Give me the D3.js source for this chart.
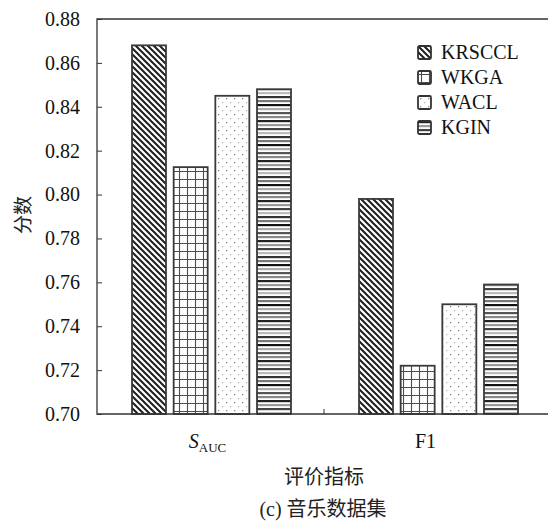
<!DOCTYPE html>
<html>
<head>
<meta charset="utf-8">
<script src="https://cdn.jsdelivr.net/npm/d3@7"></script>
<style>
  body { margin: 0; background: #fff; }
  svg { display: block; }
</style>
</head>
<body>
<svg id="chart" width="548" height="522"></svg>
<script>
// data
const categories = ['SAUC', 'F1'];
const series = ['KRSCCL', 'WKGA', 'WACL', 'KGIN'];
const valuesKRSCCL = [0.868, 0.798];
const valuesWKGA = [0.8125, 0.722];
const valuesWACL = [0.845, 0.750];
const valuesKGIN = [0.848, 0.759];
const yTicks = [0.70, 0.72, 0.74, 0.76, 0.78, 0.80, 0.82, 0.84, 0.86, 0.88];

const seriesValues = [valuesKRSCCL, valuesWKGA, valuesWACL, valuesKGIN];
const patternIds = ['pDiag', 'pGrid', 'pDots', 'pStripes'];

const SERIF = '"Liberation Serif", "Times New Roman", "DejaVu Serif", serif';
const CJK = '"Noto Sans CJK SC", sans-serif';

const svg = d3.select('#chart');
const mLeft = 97, mRight = 551, mTop = 19, mBottom = 414;

const x = d3.scaleBand().domain(categories).range([mLeft, mRight]).padding(0);
const xs = d3.scaleBand().domain(series).range([35, 194]).paddingInner(0.184).paddingOuter(0);
const y = d3.scaleLinear().domain([0.70, 0.88]).range([mBottom, mTop]);

// fill patterns
const defs = svg.append('defs');

const diag = defs.append('pattern').attr('id', 'pDiag')
  .attr('patternUnits', 'userSpaceOnUse').attr('width', 6).attr('height', 6);
diag.append('rect').attr('width', 6).attr('height', 6).attr('fill', '#fff');
diag.append('path').attr('d', 'M-1,-1 L7,7 M-4,2 L2,8 M2,-4 L8,2')
  .attr('stroke', '#1e1e1e').attr('stroke-width', 2);

const grid = defs.append('pattern').attr('id', 'pGrid')
  .attr('patternUnits', 'userSpaceOnUse').attr('width', 8).attr('height', 8);
grid.append('rect').attr('width', 8).attr('height', 8).attr('fill', '#fff');
grid.append('path').attr('d', 'M3.5,0 V8 M0,3.5 H8')
  .attr('stroke', '#4a4a4a').attr('stroke-width', 1.1);

const dots = defs.append('pattern').attr('id', 'pDots')
  .attr('patternUnits', 'userSpaceOnUse').attr('width', 8).attr('height', 8);
dots.append('rect').attr('width', 8).attr('height', 8).attr('fill', '#fff');
dots.append('rect').attr('x', 2).attr('y', 2).attr('width', 1.3).attr('height', 1.3).attr('fill', '#888');
dots.append('rect').attr('x', 6).attr('y', 6).attr('width', 1.3).attr('height', 1.3).attr('fill', '#bbb');

const stripeShades = ['#222', '#999', '#444', '#bbb', '#333', '#777', '#111', '#aaa', '#555', '#888'];
const stripes = defs.append('pattern').attr('id', 'pStripes')
  .attr('patternUnits', 'userSpaceOnUse').attr('width', 8).attr('height', stripeShades.length * 4);
stripes.append('rect').attr('width', 8).attr('height', stripeShades.length * 4).attr('fill', '#fff');
stripes.selectAll('rect.s').data(stripeShades).enter().append('rect').attr('class', 's')
  .attr('x', 0).attr('y', (d, i) => i * 4).attr('width', 8).attr('height', 2.2).attr('fill', d => d);

// bars
categories.forEach((c, ci) => {
  series.forEach((s, si) => {
    const v = seriesValues[si][ci];
    svg.append('rect')
      .attr('x', x(c) + xs(s))
      .attr('y', y(v))
      .attr('width', xs.bandwidth())
      .attr('height', y(0.70) - y(v))
      .attr('fill', 'url(#' + patternIds[si] + ')')
      .attr('stroke', '#3a3a3a')
      .attr('stroke-width', 1.8);
  });
});

// frame
svg.append('path')
  .attr('d', `M${mRight},${mTop} H${mLeft} V${mBottom} H${mRight}`)
  .attr('fill', 'none').attr('stroke', '#333').attr('stroke-width', 1.3);

// y axis
const yAxis = svg.append('g').attr('transform', `translate(${mLeft},0)`)
  .call(d3.axisLeft(y).tickValues(yTicks).tickFormat(d3.format('.2f')).tickSizeInner(-5).tickSizeOuter(0).tickPadding(17));
yAxis.attr('font-family', null).attr('font-size', null);
yAxis.select('.domain').remove();
yAxis.selectAll('line').attr('stroke', '#333');
yAxis.selectAll('text').style('font-family', SERIF).style('font-size', '20px').attr('fill', '#111');

// x axis tick between groups
svg.append('line')
  .attr('x1', x('F1')).attr('x2', x('F1'))
  .attr('y1', mBottom).attr('y2', mBottom - 5)
  .attr('stroke', '#333');

// x tick labels
const lab1 = svg.append('text').style('font-family', SERIF)
  .attr('x', x('SAUC') + x.bandwidth() / 2 - 3).attr('y', 448)
  .attr('text-anchor', 'middle').style('font-size', '20px').attr('fill', '#111');
lab1.append('tspan').style('font-style', 'italic').text('S');
lab1.append('tspan').attr('dy', 4).style('font-size', '13px').text('AUC');

svg.append('text').style('font-family', SERIF)
  .attr('x', x('F1') + x.bandwidth() / 2 - 12).attr('y', 448)
  .attr('text-anchor', 'middle').style('font-size', '20px').attr('fill', '#111')
  .text('F1');

// axis titles
svg.append('text').style('font-family', CJK)
  .attr('x', 324).attr('y', 484).attr('text-anchor', 'middle')
  .style('font-size', '20px').attr('fill', '#222').text('评价指标');

svg.append('text').style('font-family', CJK)
  .attr('transform', 'translate(30,215) rotate(-90)')
  .attr('text-anchor', 'middle')
  .style('font-size', '19px').attr('fill', '#222').text('分数');

const caption = svg.append('text')
  .attr('x', 323).attr('y', 516).attr('text-anchor', 'middle')
  .style('font-size', '20px').attr('fill', '#222');
caption.append('tspan').style('font-family', SERIF).text('(c) ');
caption.append('tspan').style('font-family', CJK).text('音乐数据集');

// legend
const legend = svg.append('g').attr('transform', 'translate(418,46)');
series.forEach((s, i) => {
  const g = legend.append('g').attr('transform', `translate(0,${i * 25})`);
  g.append('rect').attr('width', 13).attr('height', 13).attr('rx', 1.5)
    .attr('fill', 'url(#' + patternIds[i] + ')')
    .attr('stroke', '#333').attr('stroke-width', 1.8);
  g.append('text').style('font-family', SERIF)
    .attr('x', 23).attr('y', 13)
    .style('font-size', '20px').attr('fill', '#111').text(s);
});
</script>
</body>
</html>
